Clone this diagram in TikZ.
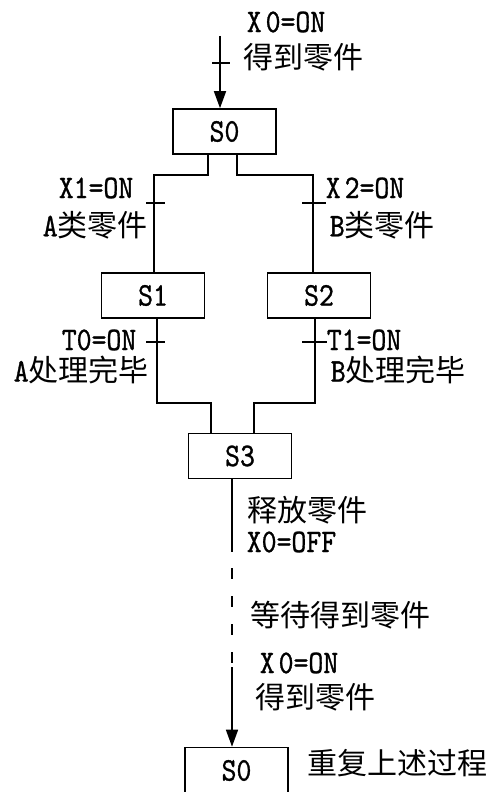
\documentclass[tikz,border=0pt]{standalone}
\usepackage{fontspec}
\newfontfamily\cjk{Noto Sans CJK SC}
\newfontfamily\lat{lmmono10-regular.otf}[FakeStretch=0.86,FakeBold=0.9]
\usetikzlibrary{arrows.meta,calc}
\newcommand\lm[1]{{\lat\fontsize{33}{34}\selectfont #1}}
\newcommand\zh[1]{{\cjk #1}}
\begin{document}
\begin{tikzpicture}[x=1pt,y=-1pt,line width=1.6pt,
  box/.style={draw,minimum width=103pt,minimum height=45pt,inner sep=0pt,font=\lat\fontsize{33}{34}\selectfont},
  lab/.style={anchor=west,inner sep=0pt,font=\fontsize{30}{32}\selectfont},
  arr/.style={-{Triangle[width=12pt,length=17pt]}},
  tick/.style={line width=1.6pt}]
\useasboundingbox (0,0) rectangle (490,792);

% step boxes
\node[box] (S0) at (224.5,131.5) {S0};
\node[box] (S1) at (153,295.5) {S1};
\node[box] (S2) at (319,295.5) {S2};
\node[box] (S3) at (240,456) {S3};
\node[box,minimum height=46pt] (S0b) at (236.5,770.5) {S0};

% labels
\node[lab] (l1) at (246,22) {\lm{X\hspace{4pt}0=ON}};
\node[lab] (l2) at (243,57) {\zh{得到零件}};
\node[lab] (l3) at (58,188) {\lm{X1=ON}};
\node[lab] (l4) at (42,225) {\lm{A}\zh{类零件}};
\node[lab] (l5) at (325,188) {\lm{X\hspace{4pt}2=ON}};
\node[lab] (l6) at (329,225) {\lm{B}\zh{类零件}};
\node[lab] (l7) at (61,340) {\lm{T0=ON}};
\node[lab] (l8) at (13,370) {\lm{A}\zh{处理完毕}};
\node[lab] (l9) at (326,340) {\lm{T1=ON}};
\node[lab] (l10) at (330,370) {\lm{B}\zh{处理完毕}};
\node[lab] (l11) at (247,510) {\zh{释放零件}};
\node[lab] (l12) at (246,542) {\lm{X0=OFF}};
\node[lab] (l13) at (250,615) {\zh{等待得到零件}};
\node[lab] (l14) at (259,663) {\lm{X\hspace{4pt}0=ON}};
\node[lab] (l15) at (255,697) {\zh{得到零件}};
\node[lab] (l16) at (307,763) {\zh{重复上述过程}};

% input to S0
\coordinate (in0) at (220,36);
\coordinate (t0) at (220,63);
\draw[arr] (in0) -- (in0 |- S0.north);
\draw[tick] ($(t0)+(-8,0)$) -- ($(t0)+(10,0)$);

% divergence S0 -> S1, S2
\coordinate (a1) at (208,175);
\coordinate (a2) at (154,175);
\coordinate (b1) at (237,175);
\coordinate (b2) at (313,175);
\draw (a1 |- S0.south) -- (a1) -- (a2) -- (a2 |- S1.north);
\draw (b1 |- S0.south) -- (b1) -- (b2) -- (b2 |- S2.north);
\coordinate (t1) at (154,203);
\coordinate (t2) at (313,203);
\draw[tick] ($(t1)+(-8,0)$) -- ($(t1)+(11,0)$);
\draw[tick] ($(t2)+(-11,0)$) -- ($(t2)+(13,0)$);

% convergence S1, S2 -> S3
\coordinate (c1) at (157,403);
\coordinate (c2) at (211,403);
\coordinate (d1) at (315,403);
\coordinate (d2) at (254,403);
\draw (c1 |- S1.south) -- (c1) -- (c2) -- (c2 |- S3.north);
\draw (d1 |- S2.south) -- (d1) -- (d2) -- (d2 |- S3.north);
\coordinate (t3) at (157,342);
\coordinate (t4) at (315,342);
\draw[tick] ($(t3)+(-11,0)$) -- ($(t3)+(8,0)$);
\draw[tick] ($(t4)+(-13,0)$) -- ($(t4)+(12,0)$);

% S3 -> S0 (repeat)
\coordinate (e0) at (232,479);
\coordinate (e1) at (232,552);
\coordinate (e2) at (232,667);
\draw (e0 |- S3.south) -- (e1);
\draw[dash pattern=on 11pt off 17pt,dash phase=12pt] (e1) -- (e2);
\draw[arr] (e2) -- (e2 |- S0b.north);
\end{tikzpicture}
\end{document}
